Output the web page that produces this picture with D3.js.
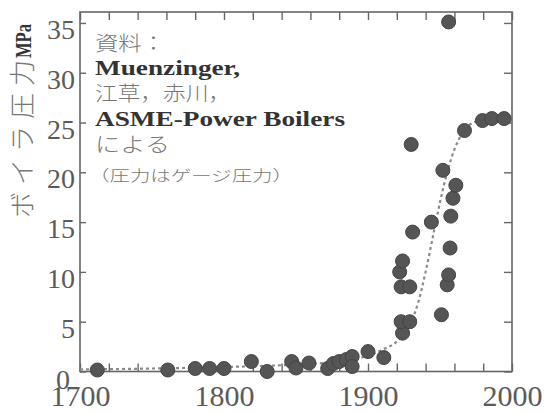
<!DOCTYPE html>
<html>
<head>
<meta charset="utf-8">
<script src="https://cdn.jsdelivr.net/npm/d3@7"></script>
<style>
  html, body { margin: 0; padding: 0; background: #fff; }
  svg { display: block; }
</style>
</head>
<body>
<svg id="chart" width="549" height="413"></svg>
<script>
// ---- data ----
const pointYears = [1712, 1761, 1780, 1790, 1800, 1819, 1830, 1847, 1850, 1859, 1872, 1876, 1880, 1885, 1889, 1889, 1900, 1911,
  1922, 1924, 1924, 1923, 1929, 1923, 1929, 1930, 1931, 1944, 1951, 1952, 1955, 1956, 1957, 1956, 1957.5, 1959, 1961, 1967, 1979.5, 1986, 1994.5];
const pointValues = [0.15, 0.15, 0.3, 0.3, 0.3, 1.0, 0.0, 1.0, 0.35, 0.85, 0.3, 0.8, 1.0, 1.2, 1.5, 0.5, 2.0, 1.4,
  10.0, 11.1, 3.85, 5.0, 5.0, 8.5, 8.5, 22.8, 14.0, 15.0, 5.7, 20.2, 8.7, 9.7, 12.4, 35.1, 15.6, 17.4, 18.7, 24.2, 25.2, 25.4, 25.4];

const curveYears  = [1700, 1750, 1800, 1850, 1880, 1900, 1910, 1920, 1925, 1930, 1935, 1940, 1945, 1950, 1955, 1960, 1965, 1970, 1975, 1980, 2000];
const curveValues = [0.2, 0.3, 0.45, 0.7, 1.0, 1.6, 2.2, 3.0, 3.8, 5.0, 7.0, 10.0, 13.5, 17.0, 20.0, 22.3, 23.8, 24.7, 25.1, 25.3, 25.4];

const xTickValues = [1700, 1720, 1740, 1760, 1780, 1800, 1820, 1840, 1860, 1880, 1900, 1920, 1940, 1960, 1980, 2000];
const xLabelValues = [1700, 1800, 1900, 2000];
const yTickValues = [0, 5, 10, 15, 20, 25, 30, 35];

const yTitleJa = "ボイラ圧力";
const yTitleUnit = "MPa";
const noteLines = ["資料：", "Muenzinger,", "江草，赤川，", "ASME-Power Boilers", "による", "（圧力はゲージ圧力）"];

// ---- layout ----
const svg = d3.select("#chart");
const mLeft = 80, mRight = 512, mTop = 12, mBottom = 371.5;
const x = d3.scaleLinear().domain([1700, 2000]).range([mLeft, mRight]);
const y = d3.scaleLinear().domain([0, 36.1]).range([mBottom, mTop]);

const axisColor = "#666";
const serif = "'Liberation Serif', 'DejaVu Serif', serif";
const cjk = "'Noto Sans CJK JP', 'Noto Sans CJK SC', sans-serif";

// frame
svg.append("rect").attr("x", mLeft).attr("y", mTop).attr("width", mRight - mLeft).attr("height", mBottom - mTop)
  .attr("fill", "none").attr("stroke", axisColor).attr("stroke-width", 1.6);

function styleAxis(g) {
  g.select(".domain").remove();
  g.selectAll(".tick line").attr("stroke", axisColor).attr("stroke-width", 1.4);
}

// bottom axis
const gx = svg.append("g").attr("transform", `translate(0,${mBottom})`)
  .call(d3.axisBottom(x).tickValues(xTickValues).tickSize(-8).tickSizeOuter(0)
    .tickPadding(12).tickFormat(d => xLabelValues.includes(d) ? String(d) : ""));
styleAxis(gx);
gx.selectAll(".tick text").attr("font-family", serif).attr("font-size", 30).attr("fill", "#5a5a5a")
  .attr("y", 34).attr("dy", 0);

// top axis
const gt = svg.append("g").attr("transform", `translate(0,${mTop})`)
  .call(d3.axisTop(x).tickValues(xTickValues).tickSize(-8).tickSizeOuter(0).tickFormat(""));
styleAxis(gt);

// left axis
const gy = svg.append("g").attr("transform", `translate(${mLeft},0)`)
  .call(d3.axisLeft(y).tickValues(yTickValues).tickSize(-6).tickSizeOuter(0).tickPadding(5));
styleAxis(gy);
gy.selectAll(".tick text").attr("font-family", serif).attr("font-size", 28).attr("fill", "#5a5a5a")
  .attr("dy", 0).attr("y", 15.5);
gy.selectAll(".tick").filter(d => d === 0).select("text").attr("x", -10).attr("y", 17);

// right axis
const gr = svg.append("g").attr("transform", `translate(${mRight},0)`)
  .call(d3.axisRight(y).tickValues(yTickValues).tickSize(-8).tickSizeOuter(0).tickFormat(""));
styleAxis(gr);

// dashed fitted curve
const curveData = curveYears.map((yr, i) => ({ yr, v: curveValues[i] }));
svg.append("path").datum(curveData)
  .attr("d", d3.line().x(d => x(d.yr)).y(d => y(d.v)).curve(d3.curveMonotoneX))
  .attr("fill", "none").attr("stroke", "#8a8a8a").attr("stroke-width", 2.2)
  .attr("stroke-dasharray", "3,3");

// points
const pts = pointYears.map((yr, i) => ({ yr, v: pointValues[i] }));
svg.append("g").selectAll("circle").data(pts).join("circle")
  .attr("cx", d => x(d.yr)).attr("cy", d => y(d.v)).attr("r", 7)
  .attr("fill", "#555").attr("stroke", "#444").attr("stroke-width", 1);

// annotation
const noteSpec = [
  { x: 95, y: 51, size: 20, bold: false, len: 70 },
  { x: 95, y: 75, size: 21, bold: true, len: 145 },
  { x: 95, y: 101, size: 20, bold: false, len: 136 },
  { x: 95, y: 126, size: 20, bold: true, len: 250 },
  { x: 95, y: 152, size: 20, bold: false, len: 75 },
  { x: 89, y: 181, size: 15, bold: false, len: 204 }
];
noteLines.forEach((t, i) => {
  const s = noteSpec[i];
  svg.append("text").attr("x", s.x).attr("y", s.y).text(t)
    .attr("font-family", s.bold ? serif : cjk)
    .attr("font-weight", s.bold ? "bold" : 300)
    .attr("font-size", s.size)
    .attr("fill", s.bold ? "#333" : "#777")
    .attr("textLength", s.len).attr("lengthAdjust", "spacingAndGlyphs");
});

// y title (two rotated pieces)
svg.append("text").attr("transform", "translate(32,218) rotate(-90)")
  .text(yTitleJa).attr("font-family", cjk).attr("font-weight", 300)
  .attr("font-size", 26).attr("fill", "#777")
  .attr("textLength", 158).attr("lengthAdjust", "spacing");
svg.append("text").attr("transform", "translate(31,58) rotate(-90)")
  .text(yTitleUnit).attr("font-family", serif).attr("font-weight", "bold")
  .attr("font-size", 24).attr("fill", "#333")
  .attr("textLength", 34).attr("lengthAdjust", "spacingAndGlyphs");
</script>
</body>
</html>
